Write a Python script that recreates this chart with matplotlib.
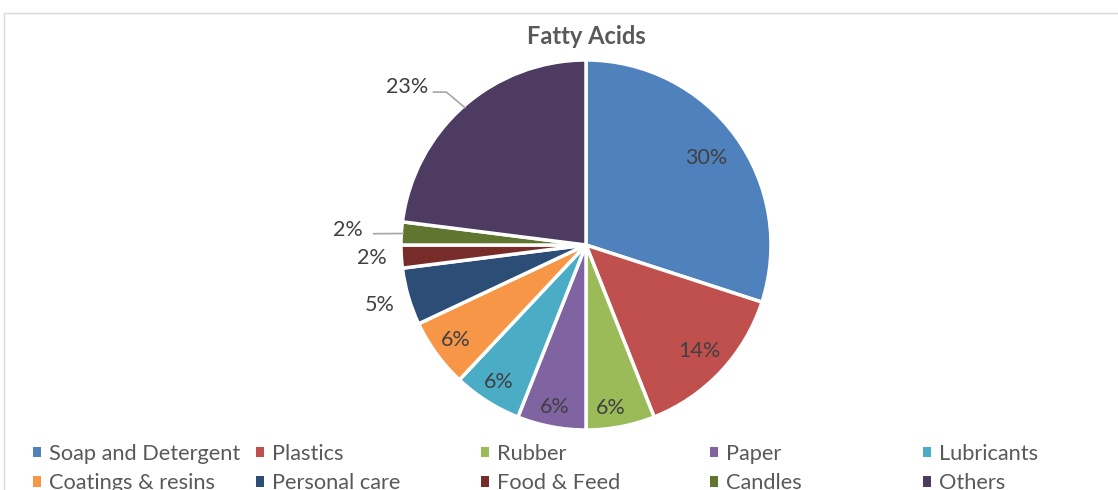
import matplotlib
matplotlib.use("Agg")
import matplotlib.pyplot as plt
import numpy as np
from matplotlib.patches import Rectangle, Patch

categories = ["Soap and Detergent", "Plastics", "Rubber", "Paper", "Lubricants",
              "Coatings & resins", "Personal care", "Food & Feed", "Candles", "Others"]
values = [30, 14, 6, 6, 6, 6, 5, 2, 2, 23]
colors = ["#4F81BD", "#C0504D", "#9BBB59", "#8064A2", "#4BACC6",
          "#F79646", "#2C4D75", "#772C2A", "#5F7530", "#4D3B62"]
title = "Fatty Acids"

# label radius (fraction of pie radius) and angle offsets
label_r = [0.80, 0.84, 0.89, 0.89, 0.88, 0.87, 1.16, 1.16, 1.29, 1.29]
label_dang = [0, 0, -2, 0, 0, 0, 0, 0, 0, 7]
leader = [False]*8 + [True, True]

plt.rcParams['font.family'] = ['Lato', 'DejaVu Sans']

W, H = 1118, 490
fig = plt.figure(figsize=(W/100, H/100), dpi=100)
fig.patch.set_facecolor("white")
fig.add_artist(Rectangle((4/W, -0.05), 1.1, 1 - 13/H + 0.05, transform=fig.transFigure,
                         fill=False, edgecolor="#D9D9D9", linewidth=1))

cx, cy, R = 586, 245, 185
ax = fig.add_axes([(cx-R)/W, (H-cy-R)/H, 2*R/W, 2*R/H])
wedges, _ = ax.pie(values, colors=colors, startangle=90, counterclock=False,
                   wedgeprops=dict(edgecolor="white", linewidth=2.5))
ax.set_xlim(-1, 1); ax.set_ylim(-1, 1)
ax.set_aspect("equal"); ax.axis("off")

total = sum(values)
cum = 0
for i, v in enumerate(values):
    mid = 90 - 360*(cum + v/2)/total
    cum += v
    a = np.deg2rad(mid + label_dang[i])
    r = label_r[i]
    pct = f"{round(100*v/total)}%"
    tx, ty = r*np.cos(a), r*np.sin(a)
    if leader[i]:
        am = np.deg2rad(mid)
        ex, ey = 0.99*np.cos(am), 0.99*np.sin(am)
        kx = tx + 0.14
        if i == 9:
            ax.plot([kx, kx+0.07, ex], [ty-0.03, ty-0.03, ey], color="#A6A6A6", lw=1.2, clip_on=False)
        else:
            ax.plot([kx, ex], [ty-0.02, ey], color="#A6A6A6", lw=1.2, clip_on=False)
    ax.text(tx, ty, pct, ha="center", va="center", fontsize=15.5, color="#404040")

fig.text(cx/W, 1 - 37/H, title, ha="center", va="center", fontsize=17,
         fontweight="bold", color="#595959")

handles = [Patch(facecolor=w.get_facecolor(), edgecolor="none") for w in wedges]
col_x = [33, 256, 481, 710, 923]
for c in range(5):
    hs = [handles[c], handles[c+5]]
    ls = [categories[c], categories[c+5]]
    fig.legend(hs, ls, loc="center left", bbox_to_anchor=(col_x[c]/W, 1 - 468.5/H),
               ncol=1, frameon=False, fontsize=15.7, handlelength=0.37, handleheight=0.37,
               handletextpad=0.37, labelspacing=0.44, borderaxespad=0, borderpad=0,
               labelcolor="#595959")

fig.savefig("out.png", dpi=100)
